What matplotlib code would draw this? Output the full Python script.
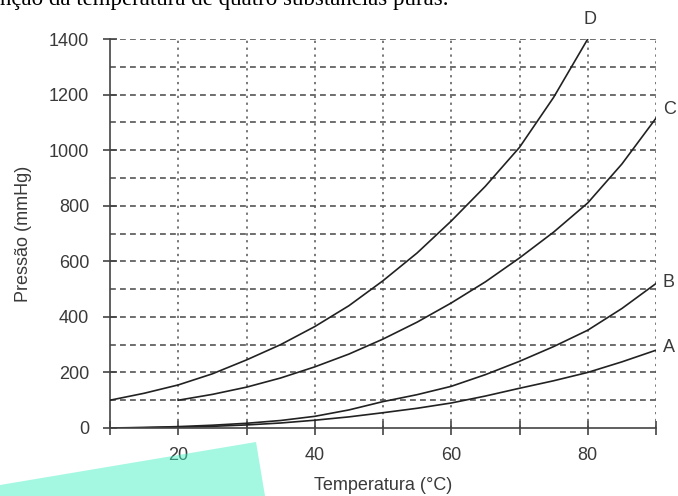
import matplotlib
matplotlib.use("Agg")
import matplotlib.pyplot as plt
from matplotlib.patches import Polygon

# temperature (°C) and vapour pressure (mmHg)
temp_d = [10, 15, 20, 25, 30, 35, 40, 45, 50, 55, 60, 65, 70, 75, 80]
pres_d = [100, 125, 155, 195, 245, 300, 365, 440, 530, 630, 745, 870, 1010, 1190, 1400]

temp_c = [20, 25, 30, 35, 40, 45, 50, 55, 60, 65, 70, 75, 80, 85, 90]
pres_c = [100, 121, 147, 180, 220, 266, 320, 381, 450, 526, 612, 705, 810, 950, 1115]

temp_b = [10, 15, 20, 25, 30, 35, 40, 45, 50, 55, 60, 65, 70, 75, 80, 85, 90]
pres_b = [0, 2, 5, 10, 17, 27, 42, 65, 95, 120, 150, 192, 240, 293, 352, 430, 520]

temp_a = [10, 15, 20, 25, 30, 35, 40, 45, 50, 55, 60, 65, 70, 75, 80, 85, 90]
pres_a = [0, 1, 3, 6, 11, 18, 28, 40, 55, 71, 90, 115, 143, 170, 200, 238, 280]

x_ticks = [10, 20, 30, 40, 50, 60, 70, 80, 90]
x_labels = ["", "20", "", "40", "", "60", "", "80", ""]
y_ticks = [0, 200, 400, 600, 800, 1000, 1200, 1400]
grid_x = [20, 30, 40, 50, 60, 70, 80, 90]
grid_y = [100, 200, 300, 400, 500, 600, 700, 800, 900, 1000, 1100, 1200, 1300, 1400]

plt.rcParams["font.family"] = ["Liberation Sans", "DejaVu Sans"]

fig = plt.figure(figsize=(6.78, 4.96), dpi=100)
ax = fig.add_axes([110 / 678, 68 / 496, 546 / 678, 389 / 496])

grid_col = "#555555"
for gy in grid_y:
    ax.axhline(gy, color=grid_col, lw=1.2, dashes=(3.5, 2.5), zorder=1)
for gx in grid_x:
    ax.axvline(gx, color=grid_col, lw=1.1, dashes=(1.5, 3), zorder=1)

line_col = "#222222"
for t, p in [(temp_d, pres_d), (temp_c, pres_c), (temp_b, pres_b), (temp_a, pres_a)]:
    ax.plot(t, p, color=line_col, lw=1.2, zorder=3)

ax.set_xlim(10, 90)
ax.set_ylim(0, 1400)
ax.set_xticks(x_ticks)
ax.set_xticklabels(x_labels)
ax.set_yticks(y_ticks)

for s in ["top", "right"]:
    ax.spines[s].set_visible(False)
for s in ["left", "bottom"]:
    ax.spines[s].set_color("#444444")
    ax.spines[s].set_linewidth(1.2)
ax.spines["bottom"].set_zorder(4)

ax.tick_params(axis="both", direction="inout", length=10, width=1.2, color="#444444",
               labelcolor="#3a3a3a", labelsize=13)
ax.tick_params(axis="x", pad=9)
ax.tick_params(axis="y", pad=10)

ax.set_xlabel("Temperatura (°C)", color="#3a3a3a", fontsize=13, labelpad=9)
ax.set_ylabel("Pressão (mmHg)", color="#3a3a3a", fontsize=13, labelpad=12)

# curve labels
lab_kw = dict(color="#3a3a3a", fontsize=13, clip_on=False)
ax.text(temp_d[-1] + 0.4, pres_d[-1] + 40, "D", ha="center", va="bottom", **lab_kw)
ax.text(temp_c[-1] + 1.0, pres_c[-1] + 30, "C", ha="left", va="center", **lab_kw)
ax.text(temp_b[-1] + 1.0, pres_b[-1] + 5, "B", ha="left", va="center", **lab_kw)
ax.text(temp_a[-1] + 1.0, pres_a[-1] + 10, "A", ha="left", va="center", **lab_kw)

# cut-off caption at the very top
fig.text(0, 1 - 5 / 496, "nção da temperatura de quatro substâncias puras.",
         family="Liberation Serif", fontsize=16.5, color="black", va="baseline", ha="left")

# cyan highlighter mark over the bottom left
W, H = 678, 496
pts = [(0, H - 485), (256, H - 442), (265, 0), (0, 0)]
fig.patches.append(Polygon([(x / W, y / H) for x, y in pts], closed=True,
                           transform=fig.transFigure, facecolor="#3ef0c0",
                           alpha=0.47, edgecolor="none", zorder=10))

fig.savefig("out.png", dpi=100)
